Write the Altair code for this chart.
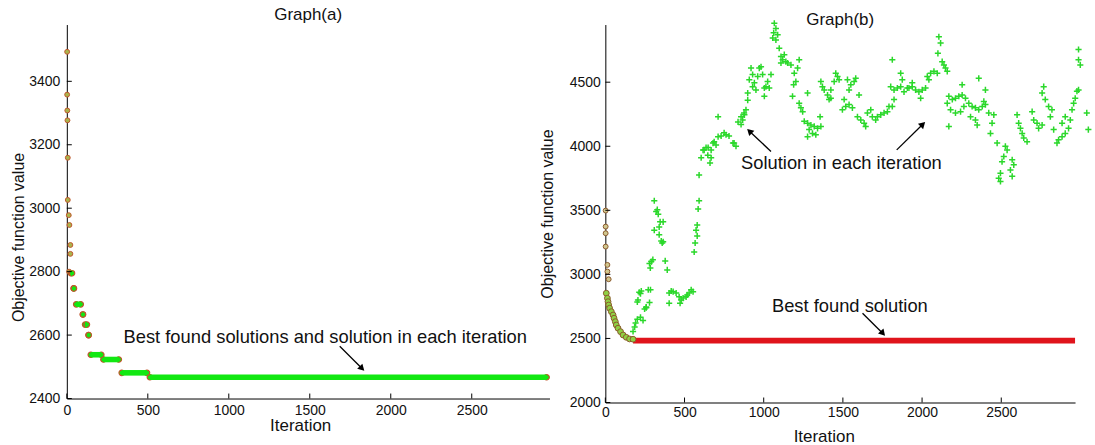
import altair as alt
import pandas as pd

FONT = "Liberation Sans"
GREEN_A = "#12e812"
GREEN_B = "#2bd82b"
RED = "#e0141c"
EDGE_A = "#c0562c"
EDGE_B = "#8c5a2c"
INK = "#111111"

# ---------------- Graph(a) data ----------------
a_early_iter = [2, 2, 3, 4, 6, 6, 12, 16, 22, 22, 14]
a_early_val = [3493, 3358, 3308, 3277, 3159, 3026, 2978, 2947, 2884, 2856, 2800]
a_step_start = [25, 42, 58, 99, 113, 134, 148, 226, 339, 513]
a_step_end = [32, 44, 86, 100, 124, 135, 213, 321, 495, 2962]
a_step_val = [2795, 2747, 2697, 2665, 2633, 2600, 2538, 2523, 2481, 2467]
a_x_ticks = [0, 500, 1000, 1500, 2000, 2500]
a_y_ticks = [2400, 2600, 2800, 3000, 3200, 3400]

# ---------------- Graph(b) data ----------------
b_upper_iter = [2, 2, 2, 2, 13, 13, 21]
b_upper_val = [3498, 3373, 3321, 3217, 3074, 3022, 2962]
b_desc_iter = [6, 13, 17, 21, 27, 38, 49, 55, 63, 69, 80, 96, 112, 132, 153, 175]
b_desc_val = [2853, 2814, 2787, 2761, 2736, 2709, 2683, 2658, 2631, 2605, 2580, 2553, 2527, 2509, 2496, 2494]
b_best_start = [175]
b_best_end = [2966]
b_best_val = [2483]

b_plus_iter = [
    175, 185, 191, 202, 222, 238, 248, 258, 206, 222, 279, 285, 227, 214, 202, 271, 258,
    290, 284, 378, 391, 279, 300,
    309, 321, 334, 346, 365, 340, 309, 340, 353, 365, 328, 359,
    403, 428, 447, 466, 491, 510, 529, 554, 403, 472, 416, 542, 517, 479,
    592, 586, 580, 580, 567, 561, 573,
    592, 605, 617, 649, 668, 661, 624, 680, 687, 712, 731, 762, 781, 699, 668, 806, 825,
    712, 838, 857, 876, 636, 750, 813, 647,
    888, 878, 867, 857, 899, 920, 930, 909, 941, 951, 899, 972, 983, 993, 1014, 1035,
    1046, 1004, 1025, 962, 930, 1004,
    1067, 1077, 1063, 1088, 1057, 1077, 1098, 1109, 1130, 1120, 1140, 1151, 1109, 1172,
    1224, 1214, 1193, 1203, 1189, 1182, 1224, 1235, 1246,
    1256, 1277, 1298, 1319, 1340, 1287, 1308, 1329, 1277, 1361, 1356, 1277,
    1361, 1371, 1382, 1403, 1424, 1455, 1466, 1476, 1445, 1424, 1413, 1497, 1518, 1539,
    1560, 1508, 1529, 1550, 1539, 1571, 1581, 1602,
    1592, 1613, 1634, 1644, 1655, 1676, 1686, 1707, 1718, 1739, 1760, 1781, 1791, 1812,
    1823, 1812, 1802, 1823, 1844, 1865, 1886, 1907, 1865, 1875,
    1917, 1938, 1959, 1980, 2001, 2022, 1991, 1938, 2033, 2054, 2075, 2096, 2043, 2106,
    2117, 2100, 2127, 2138, 2159, 2148,
    2169, 2191, 2211, 2232, 2253, 2274, 2295, 2316, 2337, 2358, 2380, 2400, 2180, 2211,
    2243, 2264, 2306, 2337, 2348, 2169, 2159, 2253, 2358, 2400, 2390, 2421, 2453, 2442,
    2432, 2474,
    2526, 2537, 2516, 2505, 2495, 2484, 2495, 2569, 2579, 2558, 2569,
    2600, 2610, 2621, 2632, 2642, 2663, 2695, 2705, 2726, 2736, 2758, 2768, 2758, 2778,
    2799, 2820, 2810, 2831, 2852, 2862, 2884, 2904, 2925, 2936, 2947, 2957, 2967, 2978,
    2988, 2904, 2884, 2988, 2988, 2999, 3050, 3040,
]
b_plus_val = [
    2555, 2590, 2620, 2650, 2665, 2640, 2730, 2745, 2800, 2850, 2780, 2880, 2870, 2860, 2785, 2880, 2740,
    3100, 3050, 3105, 3035, 3085, 3115,
    3575, 3490, 3470, 3410, 3410, 3370, 3345, 3310, 3260, 3255, 3505, 3245,
    2855, 2865, 2855, 2825, 2815, 2825, 2855, 2865, 2775, 2775, 2870, 2880, 2840, 2800,
    3575, 3510, 3385, 3300, 3245, 3175, 3345,
    3775, 3910, 3970, 3990, 3910, 3870, 3970, 4025, 4035, 4075, 4080, 4090, 4080, 4010, 3970, 4025, 4000,
    4230, 4190, 4230, 4260, 3990, 4105, 4025, 3930,
    4285, 4245, 4205, 4170, 4360, 4610, 4560, 4520, 4495, 4440, 4415, 4610, 4620, 4560, 4465, 4455,
    4560, 4390, 4505, 4545, 4465, 4455,
    4960, 4920, 4885, 4870, 4845, 4830, 4765, 4700, 4715, 4675, 4660, 4650, 4650, 4635,
    4675, 4610, 4570, 4505, 4480, 4390, 4335, 4300, 4270,
    4195, 4180, 4165, 4155, 4140, 4130, 4100, 4090, 4075, 4155, 4230, 4415,
    4505, 4465, 4440, 4400, 4375, 4570, 4545, 4520, 4505, 4440, 4365, 4285, 4310, 4325,
    4300, 4365, 4520, 4480, 4440, 4505, 4530, 4400,
    4230, 4205, 4180, 4155, 4260, 4285, 4230, 4205, 4230, 4245, 4260, 4270, 4310, 4310,
    4365, 4675, 4465, 4440, 4455, 4465, 4425, 4455, 4570, 4520,
    4455, 4465, 4440, 4425, 4440, 4455, 4375, 4495, 4545, 4570, 4585, 4570, 4520, 4855,
    4805, 4725, 4660, 4635, 4585, 4610,
    4390, 4365, 4375, 4390, 4400, 4375, 4335, 4310, 4300, 4285, 4310, 4325, 4285, 4260,
    4270, 4310, 4230, 4205, 4165, 4155, 4335, 4480, 4530, 4440, 4350, 4260, 4245, 4180,
    4100, 4025,
    4000, 3970, 3920, 3880, 3790, 3750, 3725, 3895, 3855, 3815, 3765,
    4245, 4180, 4140, 4100, 4065, 4035, 4270, 4205, 4180, 4140, 4165, 4465, 4415, 4365,
    4310, 4285, 4230, 4130, 4025, 4050, 4075, 4100, 4140, 4205, 4285, 4335, 4375, 4430,
    4440, 4230, 4180, 4755, 4675, 4635, 4130, 4260,
]
b_x_ticks = [0, 500, 1000, 1500, 2000, 2500]
b_y_ticks = [2000, 2500, 3000, 3500, 4000, 4500]

# annotations (data coordinates)
a_note = {"x": 350, "y": 2593, "text": "Best found solutions and solution in each iteration"}
a_arrows = [(1685, 2565, 1818, 2497, 135)]
b_note1 = {"x": 857, "y": 3870, "text": "Solution in each iteration"}
b_note2 = {"x": 1544, "y": 2754, "text": "Best found solution"}
b_arrows = [(1046, 3959, 915, 4112, 314), (1840, 3972, 2000, 4166, 46), (1624, 2697, 1748, 2545, 138)]

WA, HA = 484, 375
WB, HB = 471, 379


def x_axis(values, label_pad, title_pad, title_x):
    return alt.Axis(values=values, title="Iteration", ticks=False, tickSize=0, format="d",
                    labelPadding=label_pad, titlePadding=title_pad, titleX=title_x,
                    grid=False, domainColor="black", domainWidth=1, labelFlush=False,
                    labelFont=FONT, labelFontSize=14, labelColor=INK,
                    titleFont=FONT, titleFontSize=17, titleFontWeight="normal", titleColor=INK)


def y_axis(values, label_pad, title_pad, **kw):
    return alt.Axis(values=values, title="Objective function value", ticks=False, tickSize=0,
                    format="d", labelPadding=label_pad, titlePadding=title_pad,
                    grid=False, domainColor="black", domainWidth=1, labelFlush=False,
                    labelFont=FONT, labelFontSize=14, labelColor=INK,
                    titleFont=FONT, titleFontSize=16, titleFontWeight="normal", titleColor=INK, **kw)


def panel_layers(xs, ys, xax, yax, xt, yt, W, H):
    def X(f):
        return alt.X(f, scale=xs, axis=xax)

    def Y(f):
        return alt.Y(f, scale=ys, axis=yax)

    def ticks():
        tx = alt.Chart(pd.DataFrame({"i": xt})).mark_rule(color="black", strokeWidth=1).encode(
            x=X("i:Q"), y=alt.value(H), y2=alt.value(H - 5))
        ty = alt.Chart(pd.DataFrame({"v": yt})).mark_rule(color="black", strokeWidth=1).encode(
            y=Y("v:Q"), x=alt.value(0), x2=alt.value(5))
        return [tx, ty]

    def arrows(arr):
        df = pd.DataFrame(arr, columns=["i", "v", "i2", "v2", "ang"])
        line = alt.Chart(df).mark_rule(color="black", strokeWidth=1.3).encode(
            x=X("i:Q"), y=Y("v:Q"), x2="i2:Q", y2="v2:Q")
        head = alt.Chart(df).mark_point(shape="triangle", filled=True, color="black", size=55,
                                        opacity=1).encode(
            x=X("i2:Q"), y=Y("v2:Q"), angle=alt.Angle("ang:Q", scale=None))
        return [line, head]

    def note(n, align):
        df = pd.DataFrame({"i": [n["x"]], "v": [n["y"]], "text": [n["text"]]})
        return alt.Chart(df).mark_text(align=align, baseline="middle", font=FONT, fontSize=18.4,
                                       color=INK).encode(x=X("i:Q"), y=Y("v:Q"), text="text:N")

    def title(txt, dy):
        df = pd.DataFrame({"t": [txt]})
        return alt.Chart(df).mark_text(align="center", baseline="alphabetic", font=FONT, fontSize=17,
                                       color=INK).encode(x=alt.value(W / 2), y=alt.value(dy), text="t:N")

    return X, Y, ticks, arrows, note, title


# ---------------- Graph(a) ----------------
xa = alt.Scale(domain=[0, 2980], nice=False, zero=False)
ya = alt.Scale(domain=[2400, 3579], nice=False, zero=False)
XA, YA, ticksA, arrowsA, noteA, titleA = panel_layers(
    xa, ya, x_axis(a_x_ticks, 5, 0, 234), y_axis(a_y_ticks, 7, 2, titleY=213), a_x_ticks, a_y_ticks, WA, HA)

a_steps = pd.DataFrame({"i": a_step_start, "i2": a_step_end, "v": a_step_val})
a_ends = pd.DataFrame({"i": a_step_start + a_step_end, "v": a_step_val + a_step_val})
a_early = pd.DataFrame({"i": a_early_iter, "v": a_early_val})

a_base = alt.Chart(a_early).mark_point(shape="circle", filled=True, fill="#a9b44c", stroke=EDGE_A,
                                       strokeWidth=1, size=24, opacity=1).encode(x=XA("i:Q"), y=YA("v:Q"))
a_endpts = alt.Chart(a_ends).mark_point(shape="circle", filled=True, fill=GREEN_A, stroke=EDGE_A,
                                        strokeWidth=1.2, size=30, opacity=1).encode(x=XA("i:Q"), y=YA("v:Q"))
a_band = alt.Chart(a_steps).mark_rule(color=GREEN_A, strokeWidth=5.6).encode(
    x=XA("i:Q"), x2="i2:Q", y=YA("v:Q"))

left = alt.layer(
    a_base, a_endpts, a_band, *ticksA(), noteA(a_note, "left"), *arrowsA(a_arrows),
    titleA("Graph(a)", -4.5),
).properties(width=WA, height=HA)

# ---------------- Graph(b) ----------------
xb = alt.Scale(domain=[0, 2966], nice=False, zero=False)
yb = alt.Scale(domain=[2000, 4950], nice=False, zero=False)
XB, YB, ticksB, arrowsB, noteB, titleB = panel_layers(
    xb, yb, x_axis(b_x_ticks, 3, 9, 219), y_axis(b_y_ticks, 5, 14), b_x_ticks, b_y_ticks, WB, HB)

b_plus = pd.DataFrame({"i": b_plus_iter, "v": b_plus_val})
b_upper = pd.DataFrame({"i": b_upper_iter, "v": b_upper_val})
b_desc = pd.DataFrame({"i": b_desc_iter, "v": b_desc_val})
b_best = pd.DataFrame({"i": b_best_start, "i2": b_best_end, "v": b_best_val})

b_base = alt.Chart(b_plus).mark_point(shape="M -1 0 L 1 0 M 0 -1 L 0 1", filled=False, color=GREEN_B,
                                      strokeWidth=1.5, size=38, opacity=1).encode(x=XB("i:Q"), y=YB("v:Q"))
b_line = alt.Chart(b_best).mark_rule(color=RED, strokeWidth=5.6).encode(x=XB("i:Q"), x2="i2:Q", y=YB("v:Q"))
b_up = alt.Chart(b_upper).mark_point(shape="circle", filled=True, fill="#cfc68e", stroke=EDGE_B,
                                     strokeWidth=1, size=24, opacity=1).encode(x=XB("i:Q"), y=YB("v:Q"))
b_dc = alt.Chart(b_desc).mark_point(shape="circle", filled=True, fill="#8fd044", stroke=EDGE_B,
                                    strokeWidth=1, size=34, opacity=1).encode(x=XB("i:Q"), y=YB("v:Q"))

right = alt.layer(
    b_base, b_line, b_up, b_dc, *ticksB(),
    noteB(b_note1, "left"), noteB(b_note2, "center"), *arrowsB(b_arrows),
    titleB("Graph(b)", 0),
).properties(width=WB, height=HB)

chart = alt.hconcat(left, right, spacing=-14).properties(
    padding={"left": 10, "top": 5, "right": 0, "bottom": 0}
).configure_view(stroke=None)

chart.save("out.html", embed_options={"renderer": "svg", "actions": False})
